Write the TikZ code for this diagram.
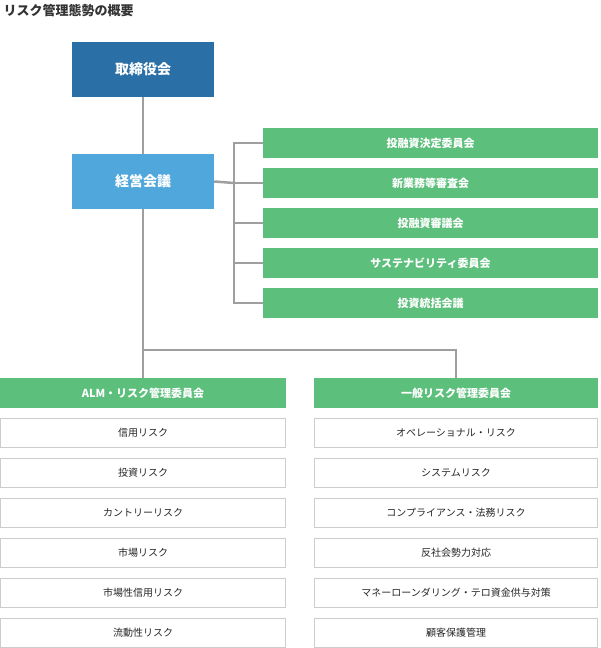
\documentclass[tikz,border=0pt]{standalone}
\usepackage{fontspec}
\setmainfont{Noto Sans CJK JP}
\begin{document}
\begin{tikzpicture}[x=1pt,y=-1pt,
  ln/.style={draw=gray!75,line width=2.5pt},
  gr/.style={fill=green!55!teal!55!white,fill=grn,draw=none,minimum height=30pt,text=white,font=\fontsize{11}{13}\selectfont\bfseries},
  it/.style={draw=gray!40,line width=0.8pt,fill=white,minimum height=29pt,text=black!85,font=\fontsize{10}{12}\selectfont},
  top/.style={draw=none,minimum width=142pt,minimum height=55pt,text=white,font=\fontsize{14}{16}\selectfont\bfseries}]
\definecolor{grn}{HTML}{5DBF7C}
\definecolor{dblue}{HTML}{2A6FA6}
\definecolor{lblue}{HTML}{4FA7DC}
\useasboundingbox (0,0) rectangle (600,648);
\node[anchor=west,font=\fontsize{13}{15}\selectfont\bfseries,text=black!80] (title) at (0,11) {リスク管理態勢の概要};
\node[top,fill=dblue] (bod) at (143,69.5) {取締役会};
\node[top,fill=lblue] (mgm) at (143,181.5) {経営会議};
\foreach \t [count=\i] in {投融資決定委員会,新業務等審査会,投融資審議会,サステナビリティ委員会,投資統括会議}{
  \node[gr,minimum width=335pt] (g\i) at (430.5,103+40*\i) {\t};
}
\node[gr,minimum width=286pt] (L) at (143,393) {ALM・リスク管理委員会};
\node[gr,minimum width=284pt] (R) at (456,393) {一般リスク管理委員会};
\foreach \t [count=\i] in {信用リスク,投資リスク,カントリーリスク,市場リスク,市場性信用リスク,流動性リスク}{
  \node[it,minimum width=285pt] (l\i) at (143,392.5+40*\i) {\t};
}
\foreach \t [count=\i] in {オペレーショナル・リスク,システムリスク,コンプライアンス・法務リスク,反社会勢力対応,マネーローンダリング・テロ資金供与対策,顧客保護管理}{
  \node[it,minimum width=283pt] (r\i) at (456,392.5+40*\i) {\t};
}
\coordinate (j) at (143,350);
\coordinate (br) at (234,183);
\begin{scope}[on background layer/.try]
\end{scope}
\draw[ln] (bod.south) -- (mgm.north);
\draw[ln] (mgm.south) -- (j) -- (L.north);
\draw[ln] (j) -| (R.north);
\draw[ln] (mgm.east) -- (br);
\draw[ln] (g1.west) -| (234,143) -- (234,303) -- (g5.west);
\foreach \i in {2,3,4}{\draw[ln] (234,103+40*\i) -- (g\i.west);}
\end{tikzpicture}
\end{document}
